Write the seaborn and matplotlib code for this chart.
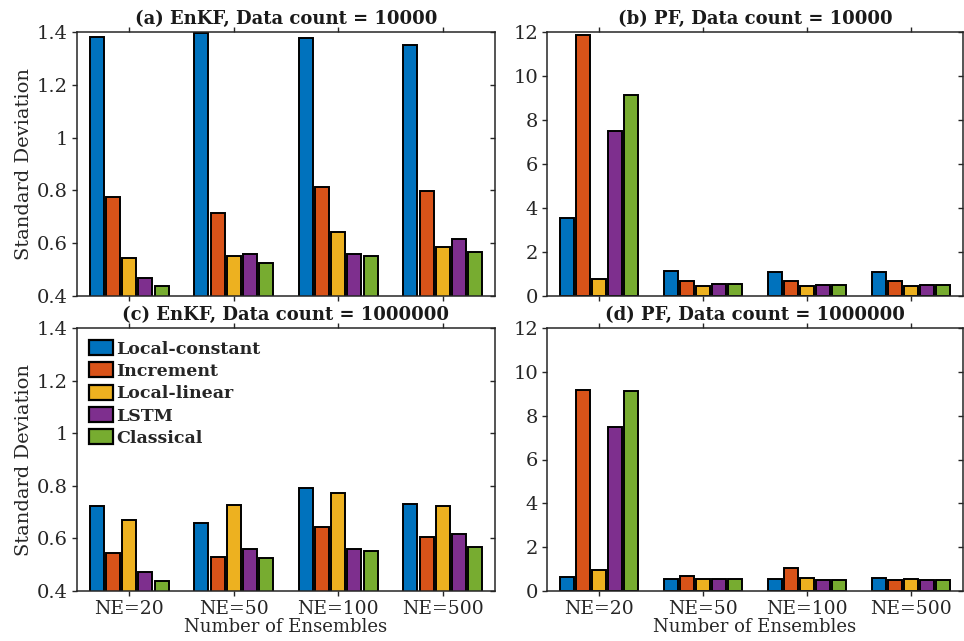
import numpy as np
import pandas as pd
import matplotlib
matplotlib.use("Agg")
import matplotlib.pyplot as plt
import seaborn as sns

# Ensemble sizes and methods
ensembles = ["NE=20", "NE=50", "NE=100", "NE=500"]
methods = ["Local-constant", "Increment", "Local-linear", "LSTM", "Classical"]
colors = ["#0072BD", "#D95319", "#EDB120", "#7E2F8E", "#77AC30"]

# Standard deviation per method (rows) and ensemble size (columns)
enkf_1e4 = [
    [1.380, 1.395, 1.376, 1.350],   # Local-constant
    [0.776, 0.713, 0.813, 0.797],   # Increment
    [0.543, 0.553, 0.641, 0.586],   # Local-linear
    [0.469, 0.558, 0.559, 0.616],   # LSTM
    [0.439, 0.524, 0.552, 0.567],   # Classical
]
pf_1e4 = [
    [3.54, 1.14, 1.09, 1.11],
    [11.88, 0.70, 0.68, 0.68],
    [0.76, 0.47, 0.47, 0.46],
    [7.50, 0.56, 0.52, 0.52],
    [9.15, 0.56, 0.49, 0.49],
]
enkf_1e6 = [
    [0.724, 0.659, 0.792, 0.729],
    [0.546, 0.530, 0.643, 0.606],
    [0.669, 0.728, 0.773, 0.724],
    [0.471, 0.559, 0.559, 0.616],
    [0.439, 0.526, 0.551, 0.569],
]
pf_1e6 = [
    [0.64, 0.54, 0.57, 0.61],
    [9.15, 0.67, 1.07, 0.50],
    [0.97, 0.54, 0.61, 0.57],
    [7.50, 0.56, 0.51, 0.51],
    [9.14, 0.56, 0.48, 0.48],
]

panels = [
    ("(a) EnKF, Data count = 10000", enkf_1e4, (0.4, 1.4), [0.4, 0.6, 0.8, 1.0, 1.2, 1.4]),
    ("(b) PF, Data count = 10000", pf_1e4, (0, 12), [0, 2, 4, 6, 8, 10, 12]),
    ("(c) EnKF, Data count = 1000000", enkf_1e6, (0.4, 1.4), [0.4, 0.6, 0.8, 1.0, 1.2, 1.4]),
    ("(d) PF, Data count = 1000000", pf_1e6, (0, 12), [0, 2, 4, 6, 8, 10, 12]),
]


def to_long(values):
    rows = []
    for m, series in zip(methods, values):
        for e, v in zip(ensembles, series):
            rows.append({"Ensemble": e, "Method": m, "Std": v})
    return pd.DataFrame(rows)


sns.set_theme(style="ticks")
plt.rcParams["font.family"] = ["DejaVu Serif"]
ink = "#262626"
plt.rcParams.update({
    "axes.edgecolor": ink,
    "axes.linewidth": 1.1,
    "xtick.color": ink,
    "ytick.color": ink,
    "xtick.labelcolor": ink,
    "ytick.labelcolor": ink,
    "text.color": ink,
    "axes.labelcolor": ink,
})

W, H = 964, 641
fig = plt.figure(figsize=(W / 100, H / 100), dpi=100)

# axes boxes in pixels: left, right, top, bottom
boxes = [
    (77, 495, 32, 296),
    (547, 963, 32, 296),
    (77, 495, 328, 591),
    (547, 963, 328, 591),
]

palette = dict(zip(methods, colors))

for idx, ((title, vals, ylim, yticks), (l, r, t, b)) in enumerate(zip(panels, boxes)):
    ax = fig.add_axes([l / W, 1 - b / H, (r - l) / W, (b - t) / H])
    df = to_long(vals)
    sns.barplot(data=df, x="Ensemble", y="Std", hue="Method", hue_order=methods,
                order=ensembles, palette=palette, width=0.775, gap=0.14,
                edgecolor="black", linewidth=1.4, saturation=1, ax=ax,
                legend=(idx == 2))
    ax.set_xlim(-0.5, 3.5)
    ax.set_ylim(*ylim)
    ax.set_yticks(yticks)
    ax.set_yticklabels([f"{v:g}" for v in yticks])
    for s in ax.spines.values():
        s.set_visible(True)
        s.set_color(ink)
        s.set_linewidth(1.1)
    ax.tick_params(axis="both", which="major", direction="out", length=3.5,
                   width=1.0, labelsize=14, pad=3)
    ax.tick_params(axis="x", top=True, bottom=True, pad=3, labelsize=13.5)
    # inward ticks on the right-hand spine
    sec = ax.secondary_yaxis("right")
    sec.set_yticks(yticks)
    sec.tick_params(direction="in", length=3.5, width=1.0, labelright=False, color=ink)
    sec.spines["right"].set_visible(False)

    ax.set_title(title, fontsize=13, fontweight="bold", pad=6, color="#1a1a1a")

    if idx in (0, 2):
        ax.set_ylabel("Standard Deviation", fontsize=14, labelpad=3)
    else:
        ax.set_ylabel("")
    if idx in (2, 3):
        ax.set_xlabel("Number of Ensembles", fontsize=13, labelpad=0)
    else:
        ax.set_xlabel("")
        ax.set_xticklabels([])

    if idx == 2:
        leg = ax.legend(loc="upper left", frameon=False,
                        prop={"weight": "bold", "size": 12.5},
                        handlelength=1.4, handleheight=0.95, handletextpad=0.15,
                        labelspacing=0.28, borderaxespad=0.3,
                        bbox_to_anchor=(0.0, 1.0))
        for h in leg.legend_handles:
            h.set_edgecolor("black")
            h.set_linewidth(1.6)

fig.savefig("out.png", dpi=100)
